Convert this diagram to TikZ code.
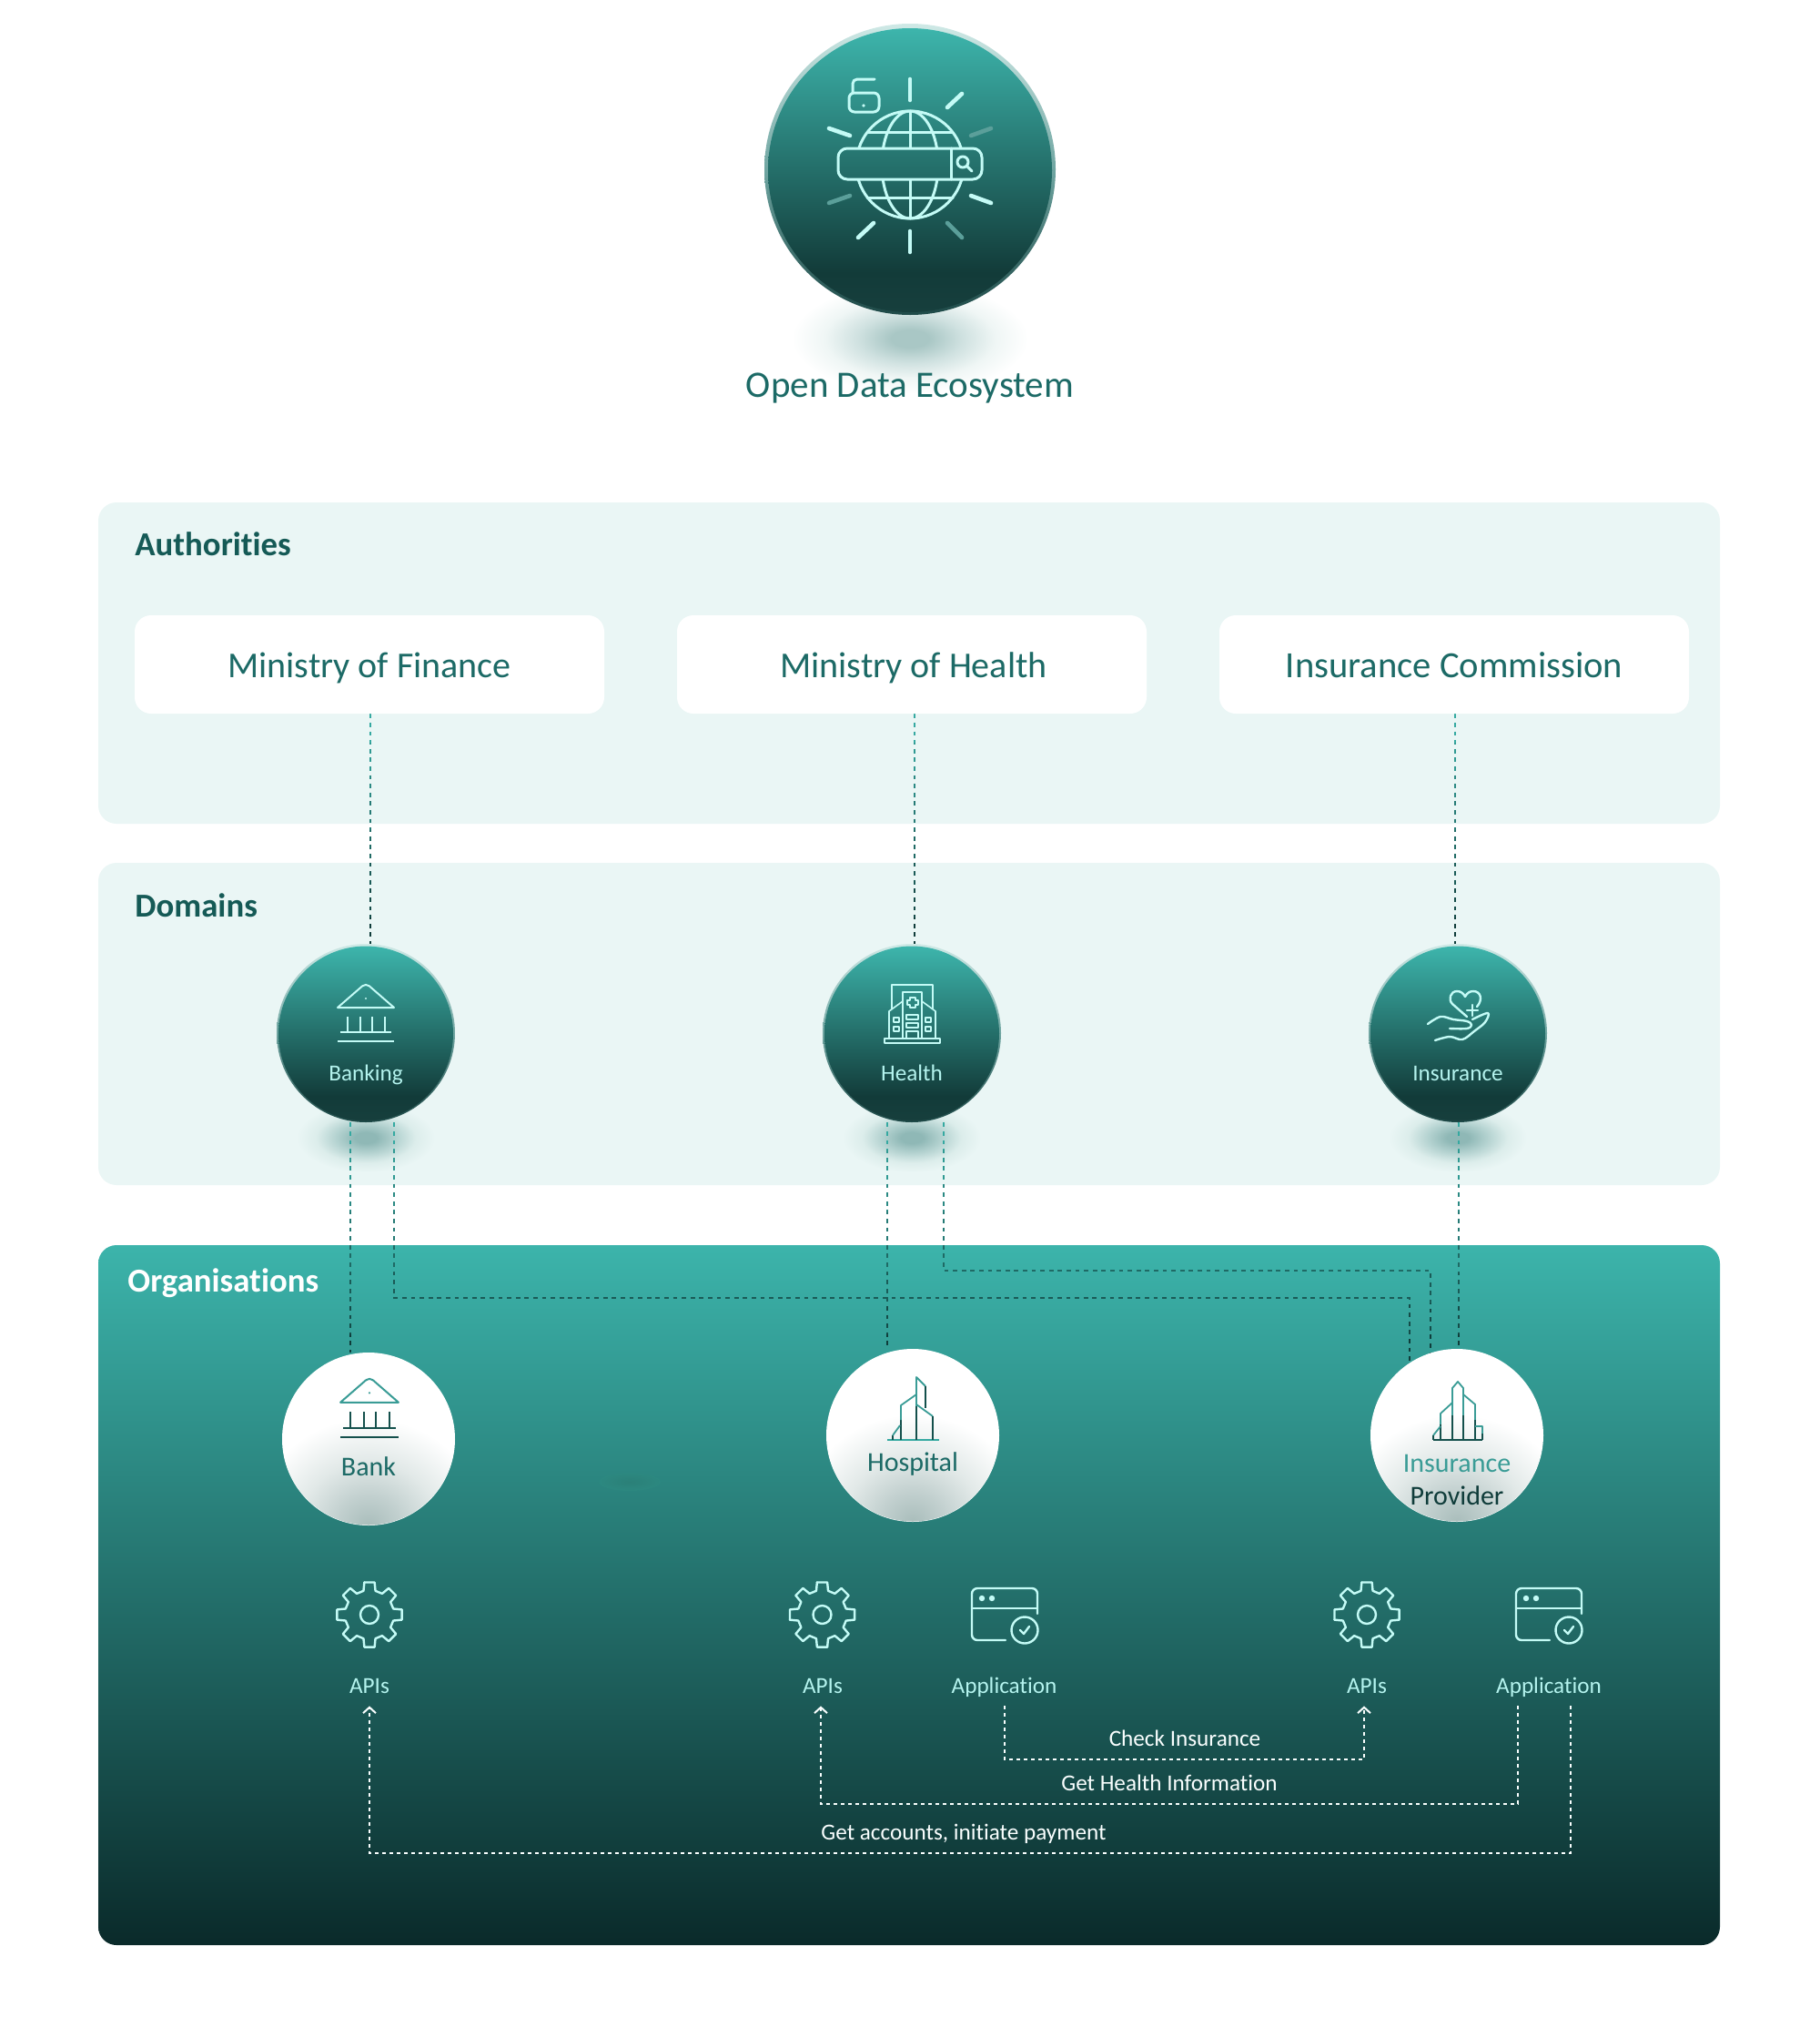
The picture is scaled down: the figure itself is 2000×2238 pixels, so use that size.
\documentclass[tikz,border=0pt]{standalone}
\usepackage{fontspec}
\setmainfont[Ligatures={NoCommon,TeX}]{Carlito}
\usetikzlibrary{arrows.meta}
\definecolor{paleP}{HTML}{EAF6F5}
\definecolor{titleC}{HTML}{1C6A66}
\definecolor{headC}{HTML}{155A56}
\definecolor{iconC}{HTML}{C4FBF6}
\definecolor{lblC}{HTML}{B4F3EE}
\definecolor{cA}{HTML}{35A9A1}
\definecolor{cB}{HTML}{0F3C3A}
\definecolor{gT}{HTML}{3DB5AC}
\definecolor{gB}{HTML}{123B39}
\definecolor{gE}{HTML}{173F3D}
\definecolor{rT}{HTML}{CFE9E6}
\definecolor{rM}{HTML}{6FA5A1}
\definecolor{rB}{HTML}{1E4A48}
\definecolor{pT}{HTML}{3CB4AB}
\definecolor{pB}{HTML}{0A2A2A}
\definecolor{o1}{HTML}{A9BDBB}
\definecolor{o2}{HTML}{C2D0CF}
\definecolor{o3}{HTML}{E2E9E8}
\definecolor{roofT}{HTML}{3A9C96}
\definecolor{colD}{HTML}{14504C}
\definecolor{s1}{HTML}{A9C7C5}
\definecolor{s2}{HTML}{CFE1E0}
\definecolor{s3}{HTML}{EFF6F5}
\definecolor{d1}{HTML}{8FB8B6}
\definecolor{d2}{HTML}{B5D3D1}
\definecolor{d3}{HTML}{DCEDEB}
\definecolor{m1}{HTML}{2B8078}
\definecolor{m2}{HTML}{2C8880}
\pgfdeclarelayer{back}
\pgfdeclarelayer{conns}
\pgfsetlayers{back,conns,main}
\pgfdeclareverticalshading{rimshade}{100bp}{color(0bp)=(rB); color(25bp)=(rB); color(50bp)=(rM); color(75bp)=(rT); color(100bp)=(rT)}
\pgfdeclareverticalshading{orbshade}{100bp}{color(0bp)=(gE); color(25bp)=(gE); color(32bp)=(gB); color(75bp)=(gT); color(100bp)=(gT)}
\pgfdeclareverticalshading{panelshade}{100bp}{color(0bp)=(pB); color(25bp)=(pB); color(75bp)=(pT); color(100bp)=(pT)}
\pgfdeclareradialshading{whiteorb}{\pgfpoint{0bp}{0bp}}{color(0bp)=(o1); color(7bp)=(o2); color(15bp)=(o3); color(25bp)=(white); color(50bp)=(white)}
\pgfdeclareradialshading{topshadow}{\pgfpoint{0bp}{0bp}}{color(0bp)=(s1); color(4bp)=(s1); color(11bp)=(s2); color(18bp)=(s3); color(25bp)=(white); color(50bp)=(white)}
\pgfdeclareradialshading{domshadow}{\pgfpoint{0bp}{0bp}}{color(0bp)=(d1); color(4bp)=(d1); color(11bp)=(d2); color(18bp)=(d3); color(25bp)=(paleP); color(50bp)=(paleP)}
\tikzset{
 x=0.5pt,y=-0.5pt,
 panel/.style={fill=paleP,rounded corners=10pt},
 wbox/.style={fill=white,rounded corners=9pt,inner sep=0pt,minimum width=258pt,minimum height=54pt,text height=18pt,text depth=3.4pt,text=titleC,font=\fontsize{20}{24}\selectfont},
 head/.style={anchor=west,inner sep=0pt,text=headC,font=\fontsize{18.4}{22}\selectfont\bfseries},
 conn/.style={line width=1pt,dash pattern=on 2.4pt off 2.4pt},
 wconn/.style={line width=1pt,draw=white!92!lblC,dash pattern=on 2pt off 2pt},
 barb/.style={-{Straight Barb[length=3.2pt,width=7pt,line width=1pt]}},
 ico/.style={draw=iconC,line width=1.2pt,line cap=round,line join=round},
 thinico/.style={draw=iconC,line width=.8pt,line cap=round,line join=round},
 mico/.style={draw=iconC,line width=1.5pt,line cap=round,line join=round},
 ray/.style={draw=iconC,line width=2.3pt,line cap=round},
 raydim/.style={draw=iconC!45!gT!75!black,line width=2.3pt,line cap=round},
 lbl/.style={anchor=base,text=lblC,inner ysep=4.5pt,inner xsep=0pt,text depth=2.5pt,font=\fontsize{12.6}{15}\selectfont},
 blab/.style={inner sep=0pt,text=white!92!lblC,text height=7.5pt,text depth=2.5pt,font=\fontsize{12.6}{15}\selectfont},
 rim/.style={circle,shade,shading=rimshade,inner sep=0pt},
 core/.style={circle,shade,shading=orbshade,inner sep=0pt},
 wcirc/.style={circle,fill=white,inner sep=0pt,minimum size=95pt},
 otext/.style={inner sep=0pt,text height=9pt,text depth=3pt,font=\fontsize{15}{18}\selectfont},
 olbl/.style={inner sep=0pt,text=lblC,text height=7.5pt,text depth=2.5pt,font=\fontsize{12.6}{15}\selectfont},
 bld/.style={line width=.9pt,line join=round},
}
\newcommand{\fadeconn}[3]{%
 \foreach \i in {0,...,7}{%
  \pgfmathsetmacro\ya{#1+(#2-#1)*\i/8}%
  \pgfmathsetmacro\yb{#1+(#2-#1)*(\i+1)/8}%
  \pgfmathtruncatemacro\pp{100-\i*100/7}%
  \begin{scope}
   \clip (0,\ya) rectangle (2000,\yb);
   \draw[conn,draw=cA!\pp!cB] #3;
  \end{scope}}}
\newcommand{\bankicon}[5]{%
 \begin{scope}[shift={(#1,#2)},scale=#3]
  \draw[line width=1pt,line join=round,draw=#4] (-31,25) [rounded corners=2.5pt] -- (0,-2) [sharp corners] -- (31,25) -- cycle;
  \fill[#4] (0,15) circle (1.2);
  \draw[line width=1pt,draw=#5] (-20,35) -- (-20,52) (-6,35) -- (-6,52) (7,35) -- (7,52) (21,35) -- (21,52);
  \draw[line width=1pt,draw=#5] (-28,52) -- (28,52);
  \draw[line width=1pt,draw=#5] (-31,62) -- (31,62);
 \end{scope}}
\newcommand{\gearicon}[2]{%
 \begin{scope}[shift={(#1,#2)}]
  \foreach \a in {0,45,...,315}{%
   \draw[ico] (\a-9:36) -- (\a+9:36) -- (\a+14:27) -- (\a+31:27) -- (\a+36:36);}
  \draw[ico] (0,0) circle (10);
 \end{scope}}
\newcommand{\appicon}[2]{%
 \begin{scope}[shift={(#1,#2)}]
  \draw[ico,rounded corners=3pt] (72,28) -- (72,0) -- (0,0) -- (0,57) -- (37,57);
  \draw[ico] (0,22) -- (72,22);
  \fill[iconC] (11,11) circle (3.2) (22,11) circle (3.2);
  \draw[ico] (58,46) circle (14.5);
  \draw[ico] (53,46) -- (57,50) -- (63,42);
 \end{scope}}
\newcommand{\dorb}[3]{%
 \begin{pgfonlayer}{back}
  \shade[shading=domshadow] (#2,1250) ellipse (76 and 38);
 \end{pgfonlayer}
 \node[rim,minimum size=98pt] (#1) at (#2,#3) {};
 \node[core,minimum size=96pt] (#1-c) at (#2,#3+.5) {};
 }
\newcommand{\worb}[3]{%
 \node[wcirc] (#1) at (#2,#3) {};
 \begin{scope}
  \clip (#2,#3) circle (94.5);
  \shade[shading=whiteorb] (#2,#3+95) ellipse (125 and 118);
 \end{scope}}
\begin{document}
\begin{tikzpicture}
\useasboundingbox (0,0) rectangle (2000,2238);
% panels and shadows
\begin{pgfonlayer}{back}
\shade[shading=topshadow] (1000,372) ellipse (130 and 60);
\fill[panel] (108,552) rectangle (1890,905);
\fill[panel] (108,948) rectangle (1890,1302);
\shade[shading=panelshade,rounded corners=10pt] (108,1368) rectangle (1890,2137);
\shade[shading=radial,inner color=m1,outer color=m2] (692,1628) ellipse (34 and 10);
\end{pgfonlayer}
% top orb
\node[rim,minimum size=160pt] (top) at (1000,186) {};
\node[core,minimum size=156pt] (top-c) at (1000,187) {};
\begin{scope}
 \clip (900,60) rectangle (1100,163) (900,197) rectangle (1100,300);
 \draw[mico] (1000,181) circle (59);
 \draw[mico] (1000,181) ellipse (31 and 59);
 \draw[mico] (1000,122) -- (1000,240);
 \draw[mico] (953,145) -- (1047,145) (953,217) -- (1047,217);
\end{scope}
\draw[mico,rounded corners=5pt] (921,163) rectangle (1079,197);
\draw[mico] (1045,163) -- (1045,197);
\draw[mico] (1058,178) circle (6);
\draw[mico] (1063,183) -- (1068,188);
\draw[ray] (1000,87) -- (1000,110);
\draw[ray] (1000,254) -- (1000,277);
\draw[ray] (1041,118) -- (1057,103);
\draw[raydim] (1067,149) -- (1089,141);
\draw[ray] (1067,215) -- (1089,223);
\draw[raydim] (1041,245) -- (1057,261);
\draw[ray] (960,245) -- (943,261);
\draw[raydim] (911,223) -- (934,215);
\draw[ray] (911,141) -- (934,149);
\draw[mico,rounded corners=3pt] (933,102) rectangle (966,123);
\draw[mico] (937,102) -- (937,92) arc[start angle=180,end angle=90,x radius=5,y radius=-5] -- (961,87);
\fill[iconC] (949,116) circle (1.8);
\node[inner sep=0pt,text=titleC,font=\fontsize{20.5}{24}\selectfont] (title) at (1000,426) {Open Data Ecosystem};
\node[head] (auth) at (148,598) {Authorities};
\node[head] (dom) at (148,995) {Domains};
\node[head,text=white] (org) at (140,1410) {Organisations};
% authority boxes
\node[wbox] (mof) at (406,730) {Ministry of Finance};
\node[wbox] (moh) at (1002,730) {\hspace*{2pt}Ministry of Health};
\node[wbox,font=\fontsize{20.3}{24}\selectfont] (ins) at (1598,730) {Insurance Commission};
% orbs
\dorb{banking}{402}{1135}
\dorb{health}{1002}{1135}
\dorb{insur}{1602}{1135}
\worb{bank}{405}{1581}
\worb{hosp}{1003}{1577}
\worb{prov}{1601}{1577}
% connectors
\begin{pgfonlayer}{conns}
\coordinate (a1) at ([xshift=.5pt]mof.south);
\coordinate (a2) at ([xshift=1.5pt]moh.south);
\coordinate (a3) at ([xshift=.5pt]ins.south);
\fadeconn{784}{1040}{(a1) -- (a1 |- banking.north)}
\fadeconn{784}{1040}{(a2) -- (a2 |- health.north)}
\fadeconn{784}{1040}{(a3) -- (a3 |- insur.north)}
\coordinate (b1) at ([xshift=-8.5pt]banking.south);
\coordinate (b2) at ([xshift=15.5pt]banking.south);
\coordinate (h1) at ([xshift=-13.5pt]health.south);
\coordinate (h2) at ([xshift=17.5pt]health.south);
\coordinate (i1) at ([xshift=.5pt]insur.south);
\coordinate (p1) at (1549,1500);
\coordinate (p2) at (1572,1490);
\coordinate (p3) at (1603,1485);
\fadeconn{1230}{1500}{(b1) -- (b1 |- bank.north)}
\fadeconn{1230}{1500}{(h1) -- (h1 |- hosp.north)}
\fadeconn{1230}{1500}{(i1) -- (p3)}
\fadeconn{1230}{1500}{(b2) -- (b2 |- 0,1426) -- (1549,1426) -- (p1)}
\fadeconn{1230}{1500}{(h2) -- (h2 |- 0,1396) -- (1572,1396) -- (p2)}
\end{pgfonlayer}
% domain icons
\bankicon{402}{1082}{1}{iconC}{iconC}
\begin{scope}[thinico]
 \draw (980,1108) -- (980,1082) -- (1025,1082) -- (1025,1108);
 \draw (992,1141) -- (992,1090) -- (1013,1090) -- (1013,1141);
 \draw (992,1100) -- (977,1111) -- (977,1141);
 \draw (1013,1100) -- (1028,1111) -- (1028,1141);
 \draw (972,1141) rectangle (1033,1146);
 \draw (982,1118) rectangle (988,1123) (982,1128) rectangle (988,1133);
 \draw (1017,1118) rectangle (1023,1123) (1017,1128) rectangle (1023,1133);
 \draw (996,1115) rectangle (1009,1120) (996,1124) rectangle (1009,1129);
 \draw (996,1141) -- (996,1133) -- (1009,1133) -- (1009,1141);
 \draw (1000,1096) -- (1006,1096) -- (1006,1099) -- (1009,1099) -- (1009,1104) -- (1006,1104) -- (1006,1107) -- (1000,1107) -- (1000,1104) -- (997,1104) -- (997,1099) -- (1000,1099) -- cycle;
\end{scope}
\draw[ico] (1623,1106) .. controls (1630,1098) and (1627,1089) .. (1619,1089) .. controls (1615,1089) and (1612,1091) .. (1610,1095) .. controls (1608,1091) and (1605,1089) .. (1601,1089) .. controls (1594,1089) and (1591,1098) .. (1596,1103) -- (1612,1117);
\draw[ico] (1612,1110) -- (1624,1110) (1618,1104) -- (1618,1116);
\draw[ico] plot[smooth,tension=.6] coordinates {(1569,1125) (1583,1117) (1597,1120) (1612,1122) (1617,1126) (1612,1130) (1593,1130)};
\draw[ico] plot[smooth,tension=.6] coordinates {(1618,1120) (1635,1113) (1632,1123) (1620,1133) (1607,1142) (1593,1139) (1577,1143)};
\node[olbl] (tbanking) at (402,1182) {Banking};
\node[olbl] (thealth) at (1002,1182) {Health};
\node[olbl] (tinsur) at (1602,1182) {Insurance};
% org icons
\bankicon{406}{1515}{1.03}{roofT}{colD}
\draw[bld,draw=cA] (975,1582) -- (1032,1582);
\draw[bld,draw=roofT] (1007,1545) -- (1007,1513) -- (1017,1523);
\draw[bld,draw=colD] (1007,1582) -- (1007,1545) (1017,1523) -- (1017,1547);
\draw[bld,draw=colD] (990,1582) -- (990,1560);
\draw[bld,draw=roofT] (990,1560) -- (990,1544) -- (1007,1532) (1007,1543) -- (1025,1556);
\draw[bld,draw=colD] (1025,1556) -- (1025,1582);
\draw[bld,draw=colD] (981,1582) -- (981,1577);
\draw[bld,draw=roofT] (981,1577) -- (989,1566);
\node[otext,text=titleC] (thosp) at (1003,1610) {Hospital};
\draw[bld,draw=colD] (1575,1582) -- (1629,1582);
\draw[bld,draw=roofT] (1596,1555) -- (1596,1525) -- (1602,1518) -- (1608,1525) -- (1608,1555);
\draw[bld,draw=colD] (1596,1582) -- (1596,1555) (1608,1582) -- (1608,1555);
\draw[bld,draw=roofT] (1583,1565) -- (1583,1553) -- (1596,1541) (1608,1532) -- (1621,1543) -- (1621,1560);
\draw[bld,draw=colD] (1583,1582) -- (1583,1565) (1621,1582) -- (1621,1560);
\draw[bld,draw=roofT] (1621,1567) -- (1629,1567) -- (1629,1575) (1575,1577) -- (1583,1567);
\draw[bld,draw=colD] (1629,1575) -- (1629,1582) (1575,1577) -- (1575,1582);
\node[otext,text=roofT] (tprov1) at (1601,1611) {Insurance};
\node[otext,text=cB] (tprov2) at (1601,1647) {Provider};
\node[otext,text=titleC] (tbank) at (405,1615) {Bank};
% api + app icons
\gearicon{406}{1774}
\gearicon{903.5}{1774}
\gearicon{1502}{1774}
\appicon{1068}{1745}
\appicon{1666}{1745}
\node[lbl] (api1) at (406,1860) {APIs};
\node[lbl] (api2) at (904,1860) {APIs};
\node[lbl] (api3) at (1502,1860) {APIs};
\node[lbl] (app1) at (1103.5,1860) {Application};
\node[lbl] (app2) at (1702,1860) {Application};
% flows
\coordinate (f1) at ([xshift=.25pt]app1.south);
\coordinate (f2) at ([xshift=-1.5pt]api3.south);
\coordinate (f3) at ([xshift=-17pt]app2.south);
\coordinate (f4) at ([xshift=-1pt]api2.south);
\coordinate (f5) at ([xshift=12pt]app2.south);
\coordinate (r1) at (0,1933);
\coordinate (r2) at (0,1982);
\coordinate (r3) at (0,2036);
\draw[wconn,barb] (f1) -- (f1 |- r1) -- (f2 |- r1) -- (f2);
\draw[wconn,barb] (f3) -- (f3 |- r2) -- (f4 |- r2) -- (f4);
\draw[wconn,barb] (f5) -- (f5 |- r3) -- (api1.south |- r3) -- (api1.south);
\node[blab] (t1) at (1302,1913) {Check Insurance};
\node[blab] (t2) at (1285,1962) {Get Health Information};
\node[blab] (t3) at (1059,2016) {Get accounts, initiate payment};
\end{tikzpicture}
\end{document}
